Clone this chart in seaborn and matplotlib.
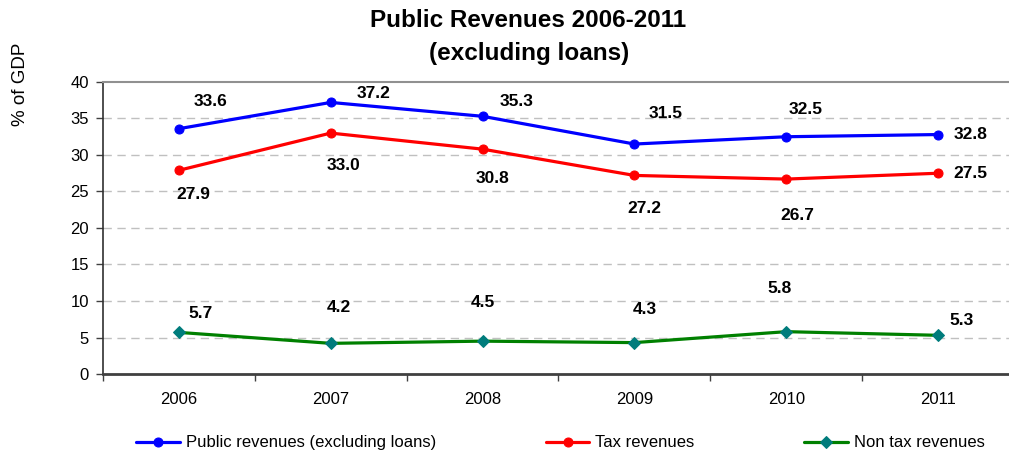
import matplotlib
matplotlib.use("Agg")
import matplotlib.pyplot as plt
import seaborn as sns
import pandas as pd

years = ["2006", "2007", "2008", "2009", "2010", "2011"]
public_revenues = [33.6, 37.2, 35.3, 31.5, 32.5, 32.8]
tax_revenues = [27.9, 33.0, 30.8, 27.2, 26.7, 27.5]
non_tax_revenues = [5.7, 4.2, 4.5, 4.3, 5.8, 5.3]

series_names = ["Public revenues (excluding loans)", "Tax revenues", "Non tax revenues"]

# label offsets in pixels (dx, dy) for each point of each series
public_offsets = [(32, 27), (43, 9), (34, 15), (31, 31), (19, 27), (32, 0)]
tax_offsets = [(14, -24), (13, -32), (10, -29), (10, -33), (11, -36), (32, 0)]
nontax_offsets = [(22, 19), (8, 36), (0, 39), (10, 33), (-7, 43), (23, 15)]

sns.set_theme(style="white")
plt.rcParams["font.family"] = ["Liberation Sans", "DejaVu Sans"]
plt.rcParams["text.color"] = "black"

fig = plt.figure(figsize=(10.09, 4.58), dpi=100)
ax = fig.add_axes([0.102, 0.1834, 0.903, 0.6376])

df = pd.DataFrame({
    "x": list(range(len(years))) * 3,
    "value": public_revenues + tax_revenues + non_tax_revenues,
    "series": [series_names[0]] * 6 + [series_names[1]] * 6 + [series_names[2]] * 6,
})

styles = [
    (series_names[0], "#0000FF", "o", "#0000FF", 6.5),
    (series_names[1], "#FF0000", "o", "#FF0000", 6.5),
    (series_names[2], "#008000", "D", "#007C7C", 6.2),
]
for name, color, marker, mcolor, ms in styles:
    sub = df[df["series"] == name]
    sns.lineplot(data=sub, x="x", y="value", ax=ax, color=color, linewidth=2.3,
                 marker=marker, markersize=ms, markerfacecolor=mcolor,
                 markeredgecolor=mcolor, label=name, legend=False)

for vals, offs in [(public_revenues, public_offsets), (tax_revenues, tax_offsets),
                   (non_tax_revenues, nontax_offsets)]:
    for i, (v, (dx, dy)) in enumerate(zip(vals, offs)):
        ax.annotate(f"{v:.1f}", (i, v), xytext=(dx, dy), textcoords="offset pixels",
                    ha="center", va="center", fontsize=12.5, fontweight="bold", color="black")

ax.set_xlim(-0.5, 5.5)
ax.set_ylim(0, 40)
ax.set_yticks(range(0, 45, 5))
ax.set_xticks([i - 0.5 for i in range(7)])
ax.set_xticklabels([])
ax.set_xticks(range(len(years)), minor=True)
ax.set_xticklabels(years, minor=True)
ax.tick_params(axis="x", which="major", length=5, width=1, color="#404040", direction="out", bottom=True)
ax.tick_params(axis="x", which="minor", length=0, pad=13, labelsize=12, labelcolor="black")
ax.tick_params(axis="y", length=5, width=1, color="#404040", direction="out", left=True,
               pad=5, labelsize=12, labelcolor="black")

for y in range(5, 40, 5):
    ax.axhline(y, color="#C0C0C0", linestyle=(0, (6, 4)), linewidth=1, zorder=0)

for side in ["top", "right"]:
    ax.spines[side].set_color("#909090")
    ax.spines[side].set_linewidth(1.5)
ax.spines["left"].set_color("#303030")
ax.spines["left"].set_linewidth(1.2)
ax.spines["bottom"].set_color("#404040")
ax.spines["bottom"].set_linewidth(2)

ax.set_xlabel("")
ax.set_ylabel("")
fig.text(0.02, 0.817, "% of GDP", rotation=90, ha="center", va="center",
         fontsize=13.5, color="black")

fig.text(0.523, 0.956, "Public Revenues 2006-2011", ha="center", va="center",
         fontsize=17.5, fontweight="bold", color="black")
fig.text(0.524, 0.884, "(excluding loans)", ha="center", va="center",
         fontsize=17.5, fontweight="bold", color="black")

handles, labels = ax.get_legend_handles_labels()
leg = fig.legend(handles, labels, loc="center", bbox_to_anchor=(0.5555, 0.033), ncol=3,
                 frameon=False, fontsize=12, handlelength=2.6, handletextpad=0.36,
                 columnspacing=6.6)
for t in leg.get_texts():
    t.set_color("black")

fig.savefig("out.png", dpi=100)
